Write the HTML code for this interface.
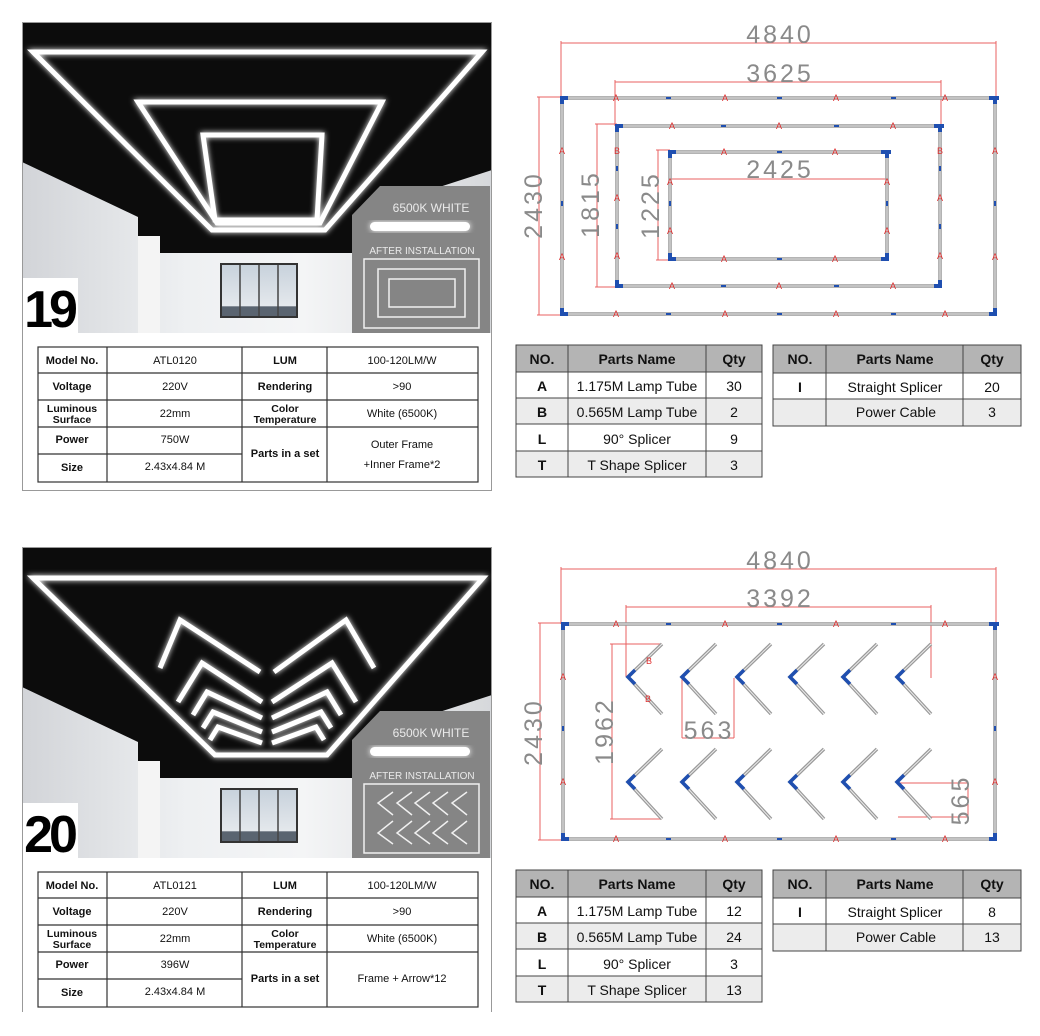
<!DOCTYPE html>
<html><head><meta charset="utf-8"><style>
html,body{margin:0;padding:0;background:#fff;}
svg{display:block;}
text{font-family:"Liberation Sans",Arial,sans-serif;}
</style></head><body>
<svg width="1040" height="1036" viewBox="0 0 1040 1036" xmlns="http://www.w3.org/2000/svg">
<defs>
  <filter id="glow" x="-20%" y="-20%" width="140%" height="140%"><feGaussianBlur stdDeviation="3" result="b"/><feMerge><feMergeNode in="b"/><feMergeNode in="SourceGraphic"/></feMerge></filter>
  <linearGradient id="wall" x1="0" y1="0" x2="1" y2="0">
    <stop offset="0" stop-color="#d2d4d8"/><stop offset="0.35" stop-color="#eef0f2"/><stop offset="0.6" stop-color="#f4f5f6"/><stop offset="1" stop-color="#d6d8db"/>
  </linearGradient>
  <linearGradient id="win" x1="0" y1="0" x2="0" y2="1">
    <stop offset="0" stop-color="#c8d2dc"/><stop offset="0.8" stop-color="#e4e8ec"/><stop offset="0.82" stop-color="#5a6470"/><stop offset="1" stop-color="#5a6470"/>
  </linearGradient>
  <g id="panelbg">
    <rect x="22" y="22" width="470" height="311" fill="url(#wall)"/>
    <polygon points="22,22 492,22 492,170 353,215 353,253 138,253 138,217 22,162" fill="#0c0c0c"/>
    <rect x="138" y="236" width="22" height="97" fill="#f4f4f4"/>
    <rect x="220" y="263" width="78" height="55" fill="#333"/>
    <rect x="222" y="265" width="74" height="51" fill="url(#win)"/>
    <line x1="240" y1="265" x2="240" y2="316" stroke="#444" stroke-width="1.5"/>
    <line x1="259" y1="265" x2="259" y2="316" stroke="#444" stroke-width="1.5"/>
    <line x1="278" y1="265" x2="278" y2="316" stroke="#444" stroke-width="1.5"/>
    <rect x="23" y="278" width="55" height="55" fill="#fff"/>
    <polygon points="352,215 380,186 490,186 490,333 352,333" fill="#858585"/>
    <text x="431" y="212" font-size="12" fill="#eaeaea" text-anchor="middle">6500K WHITE</text>
    <rect x="370" y="222" width="100" height="9" rx="4.5" fill="#fff" filter="url(#glow)"/>
    <text x="422" y="254" font-size="10" fill="#eaeaea" text-anchor="middle">AFTER INSTALLATION</text>
    <rect x="364" y="259" width="115" height="69" fill="none" stroke="#f0f0f0" stroke-width="1.5"/>
    <rect x="22.5" y="22.5" width="469" height="468" fill="none" stroke="#999" stroke-width="1"/>
  </g>
  <g id="specgrid" fill="none" stroke="#333" stroke-width="1.2">
    <rect x="38" y="347" width="440" height="135" fill="#fff"/>
    <line x1="38" y1="373" x2="478" y2="373"/>
    <line x1="38" y1="400" x2="478" y2="400"/>
    <line x1="38" y1="427" x2="478" y2="427"/>
    <line x1="38" y1="454" x2="242" y2="454"/>
    <line x1="107" y1="347" x2="107" y2="482"/>
    <line x1="242" y1="347" x2="242" y2="482"/>
    <line x1="327" y1="347" x2="327" y2="482"/>
  </g>
  <g id="specbase" font-size="11" text-anchor="middle" fill="#111">
    <text x="72" y="364" font-weight="bold">Model No.</text>
    <text x="285" y="364" font-weight="bold">LUM</text>
    <text x="402" y="364">100-120LM/W</text>
    <text x="72" y="390" font-weight="bold">Voltage</text>
    <text x="175" y="390">220V</text>
    <text x="285" y="390" font-weight="bold">Rendering</text>
    <text x="402" y="390">&gt;90</text>
    <text x="72" y="412" font-weight="bold" font-size="10.5">Luminous</text>
    <text x="72" y="423" font-weight="bold" font-size="10.5">Surface</text>
    <text x="175" y="417">22mm</text>
    <text x="285" y="412" font-weight="bold" font-size="10.5">Color</text>
    <text x="285" y="423" font-weight="bold" font-size="10.5">Temperature</text>
    <text x="402" y="417">White (6500K)</text>
    <text x="72" y="443" font-weight="bold">Power</text>
    <text x="285" y="457" font-weight="bold">Parts in a set</text>
    <text x="72" y="471" font-weight="bold">Size</text>
    <text x="175" y="470">2.43x4.84 M</text>
  </g>
  <g id="parts1">
    <rect x="516" y="345" width="246" height="27" fill="#b4b4b4"/>
    <rect x="516" y="398" width="246" height="26" fill="#ececec"/>
    <rect x="516" y="451" width="246" height="26" fill="#ececec"/>
    <g fill="none" stroke="#444" stroke-width="1">
      <rect x="516" y="345" width="246" height="132"/>
      <line x1="516" y1="372" x2="762" y2="372"/><line x1="516" y1="398" x2="762" y2="398"/>
      <line x1="516" y1="424" x2="762" y2="424"/><line x1="516" y1="451" x2="762" y2="451"/>
      <line x1="568" y1="345" x2="568" y2="477"/><line x1="706" y1="345" x2="706" y2="477"/>
    </g>
    <g font-size="14" text-anchor="middle" fill="#111">
      <text x="542" y="364" font-weight="bold">NO.</text>
      <text x="637" y="364" font-weight="bold">Parts Name</text>
      <text x="734" y="364" font-weight="bold">Qty</text>
      <text x="542" y="391" font-weight="bold">A</text>
      <text x="637" y="391">1.175M Lamp Tube</text>
      <text x="542" y="417" font-weight="bold">B</text>
      <text x="637" y="417">0.565M Lamp Tube</text>
      <text x="542" y="444" font-weight="bold">L</text>
      <text x="637" y="444">90° Splicer</text>
      <text x="542" y="470" font-weight="bold">T</text>
      <text x="637" y="470">T Shape Splicer</text>
    </g>
    <rect x="773" y="345" width="248" height="28" fill="#b4b4b4"/>
    <rect x="773" y="399" width="248" height="27" fill="#ececec"/>
    <g fill="none" stroke="#444" stroke-width="1">
      <rect x="773" y="345" width="248" height="81"/>
      <line x1="773" y1="373" x2="1021" y2="373"/><line x1="773" y1="399" x2="1021" y2="399"/>
      <line x1="826" y1="345" x2="826" y2="426"/><line x1="963" y1="345" x2="963" y2="426"/>
    </g>
    <g font-size="14" text-anchor="middle" fill="#111">
      <text x="800" y="364" font-weight="bold">NO.</text>
      <text x="895" y="364" font-weight="bold">Parts Name</text>
      <text x="992" y="364" font-weight="bold">Qty</text>
      <text x="800" y="392" font-weight="bold">I</text>
      <text x="895" y="392">Straight Splicer</text>
      <text x="896" y="417">Power Cable</text>
    </g>
  </g>
</defs>

<use href="#panelbg"/>
<g fill="none" stroke="#fff" stroke-width="5" filter="url(#glow)">
  <polygon points="33,52 482,52 325,230 212,230"/>
  <polygon points="138,102 382,102 320,223 217,223"/>
  <polygon points="203,135 322,135 317,220 215,220"/>
</g>
<text x="49" y="327" font-size="52" font-weight="bold" text-anchor="middle" fill="#000" letter-spacing="-4">19</text>
<g fill="none" stroke="#f0f0f0" stroke-width="1.5">
  <rect x="378" y="269" width="87" height="48"/>
  <rect x="389" y="279" width="66" height="28"/>
</g>
<use href="#specgrid"/>
<use href="#specbase"/>
<g font-size="11" text-anchor="middle" fill="#111">
  <text x="175" y="364">ATL0120</text>
  <text x="175" y="443">750W</text>
  <text x="402" y="448">Outer Frame</text>
  <text x="402" y="468">+Inner Frame*2</text>
</g>

<g stroke="#e86060" stroke-width="1" fill="none">
  <line x1="561" y1="43" x2="996" y2="43"/><line x1="561" y1="41" x2="561" y2="98"/><line x1="996" y1="41" x2="996" y2="98"/>
  <line x1="615" y1="82" x2="941" y2="82"/><line x1="615" y1="80" x2="615" y2="126"/><line x1="941" y1="80" x2="941" y2="126"/>
  <line x1="670" y1="179" x2="887" y2="179"/>
  <line x1="539" y1="97" x2="539" y2="315"/><line x1="537" y1="97" x2="562" y2="97"/><line x1="537" y1="315" x2="562" y2="315"/>
  <line x1="597" y1="124" x2="597" y2="287"/><line x1="595" y1="124" x2="617" y2="124"/><line x1="595" y1="287" x2="617" y2="287"/>
  <line x1="658" y1="150" x2="658" y2="260"/><line x1="656" y1="150" x2="670" y2="150"/><line x1="656" y1="260" x2="670" y2="260"/>
</g>
<g font-size="25" fill="#8a8a8a" text-anchor="middle" letter-spacing="3">
  <text x="780" y="43">4840</text>
  <text x="780" y="82">3625</text>
  <text x="780" y="178">2425</text>
  <text transform="translate(542,205) rotate(-90)">2430</text>
  <text transform="translate(599,204) rotate(-90)">1815</text>
  <text transform="translate(659,205) rotate(-90)">1225</text>
</g>
<g fill="none" stroke="#9a9a9a" stroke-width="3.5">
  <rect x="562" y="98" width="433" height="216"/>
  <rect x="617" y="126" width="323" height="160"/>
  <rect x="670" y="152" width="217" height="107"/>
</g>
<g fill="none" stroke="#ececec" stroke-width="1">
  <rect x="562" y="98" width="433" height="216"/>
  <rect x="617" y="126" width="323" height="160"/>
  <rect x="670" y="152" width="217" height="107"/>
</g>
<g fill="#1f4fb0">
  <rect x="560" y="96" width="8" height="4"/><rect x="560" y="96" width="4" height="8"/>
  <rect x="989" y="96" width="10" height="4"/><rect x="993" y="96" width="4" height="8"/>
  <rect x="560" y="312" width="8" height="4"/><rect x="560" y="308" width="4" height="8"/>
  <rect x="989" y="312" width="8" height="4"/><rect x="993" y="308" width="4" height="8"/>
  <rect x="615" y="124" width="8" height="4"/><rect x="615" y="124" width="4" height="8"/>
  <rect x="934" y="124" width="10" height="4"/><rect x="938" y="124" width="4" height="8"/>
  <rect x="615" y="284" width="8" height="4"/><rect x="615" y="280" width="4" height="8"/>
  <rect x="934" y="284" width="8" height="4"/><rect x="938" y="280" width="4" height="8"/>
  <rect x="668" y="150" width="8" height="4"/><rect x="668" y="150" width="4" height="8"/>
  <rect x="881" y="150" width="10" height="4"/><rect x="885" y="150" width="4" height="8"/>
  <rect x="668" y="257" width="8" height="4"/><rect x="668" y="253" width="4" height="8"/>
  <rect x="881" y="257" width="8" height="4"/><rect x="885" y="253" width="4" height="8"/>
  <rect x="666" y="97" width="5" height="2"/><rect x="777" y="97" width="5" height="2"/><rect x="891" y="97" width="5" height="2"/>
  <rect x="666" y="313" width="5" height="2"/><rect x="777" y="313" width="5" height="2"/><rect x="891" y="313" width="5" height="2"/>
  <rect x="561" y="201" width="2" height="5"/><rect x="994" y="201" width="2" height="5"/>
  <rect x="721" y="125" width="5" height="2"/><rect x="834" y="125" width="5" height="2"/>
  <rect x="721" y="285" width="5" height="2"/><rect x="834" y="285" width="5" height="2"/>
  <rect x="616" y="166" width="2" height="5"/><rect x="616" y="224" width="2" height="5"/>
  <rect x="939" y="166" width="2" height="5"/><rect x="939" y="224" width="2" height="5"/>
  <rect x="777" y="151" width="5" height="2"/><rect x="777" y="258" width="5" height="2"/>
  <rect x="669" y="201" width="2" height="5"/><rect x="886" y="201" width="2" height="5"/>
</g>
<g font-size="9" fill="#e03030" text-anchor="middle">
  <text x="616" y="101">A</text><text x="725" y="101">A</text><text x="836" y="101">A</text><text x="945" y="101">A</text>
  <text x="616" y="317">A</text><text x="725" y="317">A</text><text x="836" y="317">A</text><text x="945" y="317">A</text>
  <text x="562" y="154">A</text><text x="562" y="260">A</text><text x="995" y="154">A</text><text x="995" y="260">A</text>
  <text x="672" y="129">A</text><text x="779" y="129">A</text><text x="893" y="129">A</text>
  <text x="672" y="289">A</text><text x="779" y="289">A</text><text x="893" y="289">A</text>
  <text x="617" y="154">B</text><text x="940" y="154">B</text>
  <text x="617" y="201">A</text><text x="617" y="259">A</text><text x="940" y="201">A</text><text x="940" y="259">A</text>
  <text x="724" y="155">A</text><text x="835" y="155">A</text><text x="724" y="262">A</text><text x="835" y="262">A</text>
  <text x="670" y="185">A</text><text x="670" y="234">A</text><text x="887" y="185">A</text><text x="887" y="234">A</text>
</g>
<use href="#parts1"/>
<g font-size="14" text-anchor="middle" fill="#111">
  <text x="734" y="391">30</text><text x="734" y="417">2</text><text x="734" y="444">9</text><text x="734" y="470">3</text>
  <text x="992" y="392">20</text><text x="992" y="417">3</text>
</g>

<g transform="translate(0,525)">
  <use href="#panelbg"/>
  <rect x="20" y="487" width="476" height="10" fill="#fff"/>
  <use href="#specgrid"/>
  <use href="#specbase"/>
  <g font-size="11" text-anchor="middle" fill="#111">
    <text x="175" y="364">ATL0121</text>
    <text x="175" y="443">396W</text>
    <text x="402" y="457">Frame + Arrow*12</text>
  </g>
  <text x="49" y="327" font-size="52" font-weight="bold" text-anchor="middle" fill="#000" letter-spacing="-4">20</text>
</g>
<g fill="none" stroke="#fff" stroke-width="5" filter="url(#glow)">
  <polygon points="33,578 483,578 327,755 215,755"/>
  <polyline points="160,668 180,620 260,672"/>
  <polyline points="178,702 202,663 262,702"/>
  <polyline points="193,715 207,692 262,718"/>
  <polyline points="203,728 213,712 262,732"/>
  <polyline points="210,740 218,727 262,743"/>
  <g transform="translate(534,0) scale(-1,1)">
    <polyline points="160,668 188,620 260,672"/>
    <polyline points="178,702 202,663 262,702"/>
    <polyline points="193,715 207,692 262,718"/>
    <polyline points="203,728 213,712 262,732"/>
    <polyline points="210,740 218,727 262,743"/>
  </g>
</g>
<g fill="none" stroke="#f0f0f0" stroke-width="1.5">
  <polyline points="393,792 378,803 393,815"/><polyline points="412,792 397,803 412,815"/><polyline points="430,792 415,803 430,815"/><polyline points="448,792 433,803 448,815"/><polyline points="467,792 452,803 467,815"/>
  <polyline points="393,821 378,833 393,844"/><polyline points="412,821 397,833 412,844"/><polyline points="430,821 415,833 430,844"/><polyline points="448,821 433,833 448,844"/><polyline points="467,821 452,833 467,844"/>
</g>

<g stroke="#e86060" stroke-width="1" fill="none">
  <line x1="561" y1="569" x2="996" y2="569"/><line x1="561" y1="567" x2="561" y2="624"/><line x1="996" y1="567" x2="996" y2="624"/>
  <line x1="626" y1="607" x2="931" y2="607"/><line x1="626" y1="605" x2="626" y2="677"/><line x1="931" y1="605" x2="931" y2="678"/>
  <line x1="540" y1="623" x2="540" y2="840"/><line x1="538" y1="623" x2="563" y2="623"/><line x1="538" y1="840" x2="563" y2="840"/>
  <line x1="612" y1="644" x2="612" y2="819"/><line x1="610" y1="644" x2="662" y2="644"/><line x1="610" y1="819" x2="662" y2="819"/>
  <line x1="682" y1="678" x2="682" y2="738"/><line x1="734" y1="678" x2="734" y2="738"/><line x1="682" y1="738" x2="734" y2="738"/>
  <line x1="898" y1="783" x2="968" y2="783"/><line x1="898" y1="817" x2="968" y2="817"/><line x1="968" y1="783" x2="968" y2="817"/>
</g>
<g font-size="25" fill="#8a8a8a" text-anchor="middle" letter-spacing="3">
  <text x="780" y="569">4840</text>
  <text x="780" y="607">3392</text>
  <text x="709" y="739">563</text>
  <text transform="translate(542,732) rotate(-90)">2430</text>
  <text transform="translate(613,731) rotate(-90)">1962</text>
  <text transform="translate(969,800) rotate(-90)">565</text>
</g>
<g fill="none" stroke="#9a9a9a" stroke-width="3.5">
  <rect x="563" y="624" width="432" height="215"/>
  <g id="chev"><polyline points="662,644 628,677 662,714"/></g>
  <use href="#chev" x="54"/><use href="#chev" x="109"/><use href="#chev" x="162"/><use href="#chev" x="215"/><use href="#chev" x="269"/>
  <use href="#chev" y="105"/><use href="#chev" x="54" y="105"/><use href="#chev" x="109" y="105"/><use href="#chev" x="162" y="105"/><use href="#chev" x="215" y="105"/><use href="#chev" x="269" y="105"/>
</g>
<g fill="none" stroke="#ececec" stroke-width="1">
  <rect x="563" y="624" width="432" height="215"/>
  <g id="chev2"><polyline points="662,644 628,677 662,714"/></g>
  <use href="#chev2" x="54"/><use href="#chev2" x="109"/><use href="#chev2" x="162"/><use href="#chev2" x="215"/><use href="#chev2" x="269"/>
  <use href="#chev2" y="105"/><use href="#chev2" x="54" y="105"/><use href="#chev2" x="109" y="105"/><use href="#chev2" x="162" y="105"/><use href="#chev2" x="215" y="105"/><use href="#chev2" x="269" y="105"/>
</g>
<g fill="#1f4fb0">
  <rect x="561" y="622" width="8" height="4"/><rect x="561" y="622" width="4" height="8"/>
  <rect x="989" y="622" width="10" height="4"/><rect x="993" y="622" width="4" height="8"/>
  <rect x="561" y="837" width="8" height="4"/><rect x="561" y="833" width="4" height="8"/>
  <rect x="989" y="837" width="8" height="4"/><rect x="993" y="833" width="4" height="8"/>
  <rect x="666" y="623" width="5" height="2"/><rect x="777" y="623" width="5" height="2"/><rect x="891" y="623" width="5" height="2"/>
  <rect x="666" y="838" width="5" height="2"/><rect x="777" y="838" width="5" height="2"/><rect x="891" y="838" width="5" height="2"/>
  <rect x="562" y="726" width="2" height="5"/><rect x="994" y="726" width="2" height="5"/>
</g>
<g fill="none" stroke="#1f4fb0" stroke-width="3.5">
  <g id="vtx"><polyline points="635,670 628,677 635,684"/></g>
  <use href="#vtx" x="54"/><use href="#vtx" x="109"/><use href="#vtx" x="162"/><use href="#vtx" x="215"/><use href="#vtx" x="269"/>
  <use href="#vtx" y="105"/><use href="#vtx" x="54" y="105"/><use href="#vtx" x="109" y="105"/><use href="#vtx" x="162" y="105"/><use href="#vtx" x="215" y="105"/><use href="#vtx" x="269" y="105"/>
</g>
<g font-size="9" fill="#e03030" text-anchor="middle">
  <text x="616" y="627">A</text><text x="725" y="627">A</text><text x="836" y="627">A</text><text x="945" y="627">A</text>
  <text x="616" y="842">A</text><text x="725" y="842">A</text><text x="836" y="842">A</text><text x="945" y="842">A</text>
  <text x="563" y="680">A</text><text x="563" y="785">A</text><text x="995" y="680">A</text><text x="995" y="785">A</text>
  <text x="649" y="664">B</text><text x="648" y="702">B</text>
</g>
<g transform="translate(0,525)"><use href="#parts1"/></g>
<g font-size="14" text-anchor="middle" fill="#111">
  <text x="734" y="916">12</text><text x="734" y="942">24</text><text x="734" y="969">3</text><text x="734" y="995">13</text>
  <text x="992" y="917">8</text><text x="992" y="942">13</text>
</g>
</svg>
</body></html>
